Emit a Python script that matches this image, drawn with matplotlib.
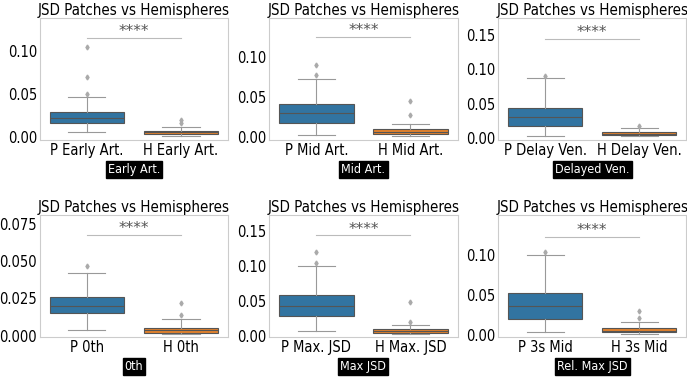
import matplotlib.pyplot as plt

# panel info
tick_names = [["P Early Art.", "H Early Art."], ["P Mid Art.", "H Mid Art."],
              ["P Delay Ven.", "H Delay Ven."], ["P 0th", "H 0th"],
              ["P Max. JSD", "H Max. JSD"], ["P 3s Mid", "H 3s Mid"]]
panel_labels = ["Early Art.", "Mid Art.", "Delayed Ven.", "0th", "Max JSD", "Rel. Max JSD"]

# box stats per panel: [patches, hemispheres]
q1 = [[0.017, 0.004], [0.018, 0.004], [0.018, 0.004], [0.015, 0.002], [0.028, 0.004], [0.020, 0.004]]
med = [[0.022, 0.006], [0.030, 0.007], [0.030, 0.006], [0.020, 0.004], [0.042, 0.006], [0.036, 0.006]]
q3 = [[0.029, 0.007], [0.041, 0.010], [0.043, 0.008], [0.026, 0.005], [0.058, 0.009], [0.052, 0.009]]
whislo = [[0.006, 0.002], [0.003, 0.002], [0.003, 0.002], [0.004, 0.001], [0.007, 0.002], [0.004, 0.002]]
whishi = [[0.047, 0.012], [0.072, 0.017], [0.087, 0.015], [0.042, 0.011], [0.100, 0.016], [0.100, 0.017]]
fliers = [[[0.05, 0.07, 0.105], [0.016, 0.020]],
          [[0.078, 0.090], [0.028, 0.045]],
          [[0.090], [0.017]],
          [[0.047], [0.014, 0.022]],
          [[0.105, 0.12], [0.020, 0.048]],
          [[0.104], [0.021, 0.030]]]
ylims = [(-0.003, 0.138), (-0.003, 0.148), (-0.003, 0.175),
         (-0.001, 0.081), (-0.002, 0.173), (-0.002, 0.149)]
sig_y = [0.115, 0.125, 0.145, 0.068, 0.144, 0.122]
yticks = [[0, 0.05, 0.10], [0, 0.05, 0.10], [0, 0.05, 0.10, 0.15],
          [0, 0.025, 0.05, 0.075], [0, 0.05, 0.10, 0.15], [0, 0.05, 0.10]]

colors = ["#3274a1", "#e1812c"]

fig = plt.figure(figsize=(6.87, 3.77), dpi=100)
lefts = [0.058, 0.392, 0.725]
bottoms = [0.629, 0.106]
axes = []
for b in bottoms:
    for l in lefts:
        axes.append(fig.add_axes([l, b, 0.274, 0.323]))

for i, ax in enumerate(axes):
    stats = []
    for j in range(2):
        stats.append(dict(q1=q1[i][j], med=med[i][j], q3=q3[i][j],
                          whislo=whislo[i][j], whishi=whishi[i][j],
                          fliers=fliers[i][j], label=tick_names[i][j]))
    bp = ax.bxp(stats, positions=[0, 1], widths=0.79, patch_artist=True,
                boxprops=dict(linewidth=0.8, edgecolor="#555555"),
                medianprops=dict(color="#555555", linewidth=0.8),
                whiskerprops=dict(color="#999999", linewidth=0.8),
                capprops=dict(color="#999999", linewidth=0.8),
                flierprops=dict(marker="d", markersize=2.5, markerfacecolor="#aaaaaa",
                                markeredgecolor="#aaaaaa"))
    for patch, c in zip(bp["boxes"], colors):
        patch.set_facecolor(c)
    ax.plot([0, 1], [sig_y[i], sig_y[i]], color="#bbbbbb", lw=0.8)
    ax.annotate("****", (0.5, sig_y[i]), xytext=(0, -1), textcoords="offset points",
                ha="center", va="bottom", fontsize=11, color="#555555")
    ax.set_xlim(-0.5, 1.5)
    ax.set_ylim(ylims[i])
    ax.set_yticks(yticks[i])
    if i == 3:
        ax.set_yticklabels(["0.000", "0.025", "0.050", "0.075"])
    ax.set_title("JSD Patches vs Hemispheres", fontsize=10.8, fontstretch="condensed", pad=1)
    ax.tick_params(labelsize=10.5, length=0, pad=2)
    for lab in ax.get_xticklabels() + ax.get_yticklabels():
        lab.set_fontstretch("condensed")
    for s in ax.spines.values():
        s.set_color("#cccccc")
    ax.set_xlabel(panel_labels[i], fontsize=9, color="white", labelpad=4,
                  fontstretch="condensed",
                  bbox=dict(facecolor="black", edgecolor="black", pad=1.5))

fig.savefig("out.png")
